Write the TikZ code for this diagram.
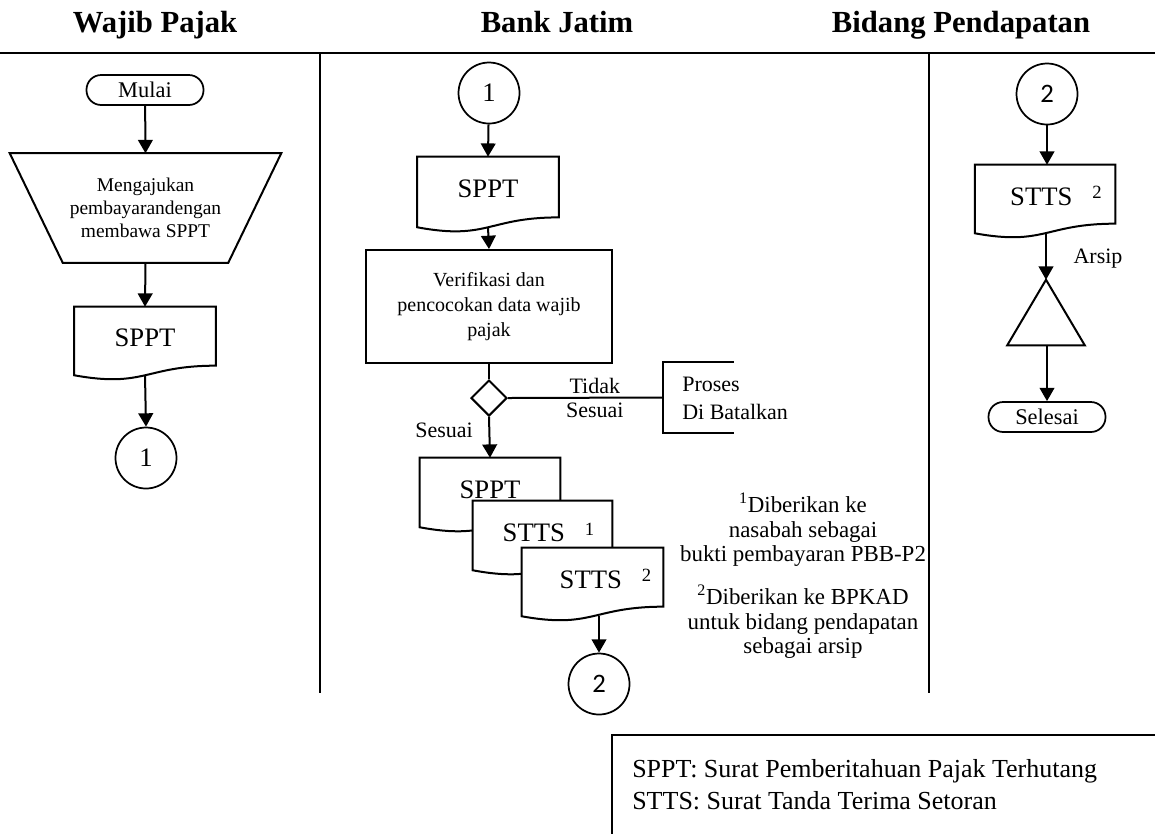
\documentclass[tikz,border=0pt]{standalone}
\usepackage{fontspec}
\setmainfont{Liberation Serif}
\newfontfamily\numfont{Carlito}
\usetikzlibrary{shapes.geometric,arrows.meta,calc}
\tikzset{
  ln/.style={line width=1.5pt},
  arr/.style={line width=1.5pt,-{Triangle[width=11pt,length=10pt]}},
  term/.style={draw,line width=1.3pt,rounded corners=11pt,minimum width=87.75pt,minimum height=22.5pt,inner sep=0pt,font=\fontsize{16.8}{20}\selectfont},
  conn/.style={draw,circle,line width=1.3pt,minimum size=45.75pt,inner sep=0pt,font=\fontsize{20}{24}\selectfont},
  docbox/.style={inner sep=0pt},
  doctext/.style={inner sep=0pt,font=\fontsize{20}{24}\selectfont},
  hdr/.style={anchor=base,font=\fontsize{23}{28}\selectfont\bfseries},
  lbl/.style={font=\fontsize{16.5}{21}\selectfont},
  note/.style={align=center,font=\fontsize{17.2}{18.6}\selectfont},
  lane/.style={line width=1.8pt}
}
\newcommand\docpath[1]{%
  \draw[ln,fill=white] (#1.north west) -- (#1.north east) -- ($(#1.north east)!0.86!(#1.south east)$)
    .. controls ($(#1.north)!0.86!(#1.south)$) and ($(#1.north)!1.187!(#1.south)$) .. (#1.south west) -- cycle;}
% name, centre, width, height, text, text x-shift
\newcommand\docnode[6]{%
  \node[docbox,minimum width=#3,minimum height=#4] (#1) at #2 {};
  \docpath{#1}
  \node[doctext] (#1t) at ($(#1.center)+(#6,-3)$) {#5};}
\newcommand\sttsx[1]{STTS\hspace{0.75em}\raisebox{0.55ex}{\fontsize{14}{14}\selectfont #1}}
\begin{document}
\begin{tikzpicture}[x=0.75pt,y=-0.75pt]
\useasboundingbox (0,0) rectangle (1155,833);
% headers and lanes
\node[hdr] (h1) at (155,32) {Wajib Pajak};
\node[hdr] (h2) at (557,32) {Bank Jatim};
\node[hdr] (h3) at (961,32) {Bidang Pendapatan};
\draw[lane] (0,53) -- (1155,53);
\draw[lane] (320,53) -- (320,693);
\draw[lane] (929,53) -- (929,693);

% ---- Wajib Pajak
\node[term] (mulai) at (145,90) {Mulai};
\node[inner sep=0pt,minimum width=123.75pt,minimum height=81.75pt,align=center,
      font=\fontsize{14.6}{17.3}\selectfont] (mop) at (145.5,208)
      {Mengajukan\\pembayarandengan\\membawa SPPT};
\draw[ln] ($(mop.north west)+(-53,0)$) -- ($(mop.north east)+(53,0)$) -- (mop.south east) -- (mop.south west) -- cycle;
\docnode{d1}{(145,341)}{105.75pt}{51pt}{SPPT}{0}
\node[conn] (c1a) at (146,458) {1};
\draw[arr] (mulai) -- (mop.north);
\draw[arr] (mop.south) -- (d1.north);
\draw[arr] (d1.south) -- (c1a.north);

% ---- Bank Jatim
\node[conn] (c1b) at (489,93) {1};
\docnode{d2}{(488,192)}{105.75pt}{52.5pt}{SPPT}{0}
\node[draw,ln,minimum width=184.5pt,minimum height=84.75pt,align=center,inner sep=0pt,
      font=\fontsize{15}{18.8}\selectfont] (ver) at (489,306.5)
      {Verifikasi dan\\pencocokan data wajib\\pajak};
\node[draw,ln,diamond,minimum width=27pt,minimum height=27pt,inner sep=0pt] (dia) at (489,398) {};
\node[inner sep=0pt,minimum width=52.5pt,minimum height=53.25pt,anchor=west] (proc) at (663,397.5) {};
\draw[ln] (proc.north east) -- (proc.north west) -- (proc.south west) -- (proc.south east);
\node[lbl,anchor=west,align=left,inner sep=0pt] (proct) at (682,398) {Proses\\Di Batalkan};
\draw[arr] (c1b) -- (d2.north);
\draw[arr] (d2.south) -- (ver.north);
\draw[ln] (ver.south) -- (dia.north);
\draw[ln] (dia.east) -- (proc.west)
   node[lbl,pos=0.56,anchor=south,inner sep=2pt] (tidak) {Tidak}
   node[lbl,pos=0.56,anchor=north,inner sep=3pt] (ses2) {Sesuai};
\node[lbl] (ses1) at (444,430) {Sesuai};
\docnode{s1}{(490,492.5)}{105pt}{51.75pt}{SPPT}{0}
\docnode{s2}{(542.5,535.5)}{104.25pt}{51.75pt}{\sttsx{1}}{6}
\docnode{s3}{(592.5,582)}{105.75pt}{51pt}{\sttsx{2}}{13}
\node[conn,font=\numfont\fontsize{20}{24}\selectfont] (c2a) at (599,684) {2};
\draw[arr] (dia.south) -- (s1.north);
\draw[arr] (s3.south -| c2a) -- (c2a.north);
\node[note] (n1) at (803,530) {\textsuperscript{1}Diberikan ke\\nasabah sebagai\\bukti pembayaran PBB-P2};
\node[note] (n2) at (803,622) {\textsuperscript{2}Diberikan ke BPKAD\\untuk bidang pendapatan\\sebagai arsip};

% ---- Bidang Pendapatan
\node[conn,font=\numfont\fontsize{20}{24}\selectfont] (c2b) at (1047,94) {2};
\docnode{d3}{(1045,199)}{105pt}{51pt}{\sttsx{2}}{11}
\node[inner sep=0pt,minimum width=57.75pt,minimum height=48.75pt] (arsip) at (1046,312.5) {};
\draw[ln] (arsip.north) -- (arsip.south east) -- (arsip.south west) -- cycle;
\node[lbl] (arsipt) at (1098,259) {Arsip};
\node[term] (selesai) at (1047,417) {Selesai};
\draw[arr] (c2b) -- (c2b |- d3.north);
\draw[arr] (d3.south -| arsip) -- (arsip.north);
\draw[arr] (arsip.south -| selesai) -- (selesai.north);

% ---- legend
\node[inner sep=0pt,minimum width=407.25pt,minimum height=73.5pt,anchor=north west] (leg) at (612,735) {};
\draw[ln] (leg.south west) -- (leg.north west) -- (leg.north east);
\node[anchor=west,align=left,inner sep=0pt,font=\fontsize{19.5}{24}\selectfont] (legt) at ($(leg.west)+(20,0)$)
  {SPPT: Surat Pemberitahuan Pajak Terhutang\\STTS: Surat Tanda Terima Setoran};
\end{tikzpicture}
\end{document}
